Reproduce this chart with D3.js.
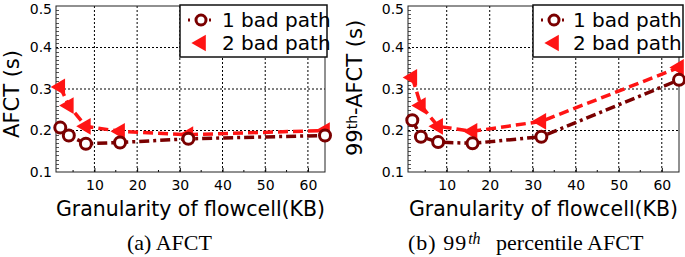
<!DOCTYPE html>
<html>
<head>
<meta charset="utf-8">
<script src="https://cdn.jsdelivr.net/npm/d3@7"></script>
<style>
  body { margin: 0; background: #fff; }
  svg { display: block; }
  .tick text { font-family: "DejaVu Sans", sans-serif; font-size: 14px; fill: #000; }
</style>
</head>
<body>
<svg id="chart" width="685" height="257"></svg>
<script>
// flowcell granularity (KB)
var granularity = [2, 4, 8, 16, 32, 64];

// (a) average flow completion time (s)
var afctOneBad = [0.207, 0.188, 0.168, 0.171, 0.180, 0.188];
var afctTwoBad = [0.305, 0.260, 0.210, 0.198, 0.190, 0.200];

// (b) 99th percentile flow completion time (s)
var p99OneBad = [0.225, 0.185, 0.172, 0.169, 0.185, 0.322];
var p99TwoBad = [0.328, 0.260, 0.210, 0.198, 0.222, 0.352];

var seriesNames = ["1 bad path", "2 bad path"];
var xTicks = [10, 20, 30, 40, 50, 60];
var xMinorTicks = [5, 15, 25, 35, 45, 55];
var yTicks = [0.1, 0.2, 0.3, 0.4, 0.5];

var darkRed = "#7a0000";
var red = "#ff1414";

var svg = d3.select("#chart");

function panel(opts){
	var g = svg.append("g").attr("transform", "translate(" + opts.left + "," + opts.top + ")");
	var width = opts.width, height = opts.height;

	var xScale = d3.scaleLinear().domain([1, 64]).range([0, width]);
	var yScale = d3.scaleLinear().domain([0.1, 0.5]).range([height, 0]);

	// grid
	g.append("g").selectAll("line").data(xTicks).enter().append("line")
		.attr("x1", function(d){ return xScale(d); })
		.attr("x2", function(d){ return xScale(d); })
		.attr("y1", 0).attr("y2", height)
		.attr("stroke", "#000").attr("stroke-width", 1).attr("stroke-dasharray", "2,2");
	g.append("g").selectAll("line").data(yTicks.slice(1, -1)).enter().append("line")
		.attr("x1", 0).attr("x2", width)
		.attr("y1", function(d){ return yScale(d); })
		.attr("y2", function(d){ return yScale(d); })
		.attr("stroke", "#000").attr("stroke-width", 1).attr("stroke-dasharray", "2,2");

	// axes
	var xAxis = d3.axisBottom(xScale).tickValues(xTicks).tickSize(-4).tickPadding(8)
		.tickFormat(d3.format("d"));
	var x_axis = g.append("g").attr("transform", "translate(0," + height + ")").call(xAxis);
	x_axis.select(".domain").remove();
	x_axis.selectAll(".tick line").attr("stroke", "#000");

	g.append("g").selectAll("line").data(xMinorTicks).enter().append("line")
		.attr("x1", function(d){ return xScale(d); })
		.attr("x2", function(d){ return xScale(d); })
		.attr("y1", height).attr("y2", height - 2)
		.attr("stroke", "#000");

	// dense minor ticks on the left edge
	g.append("g").selectAll("line").data(d3.range(0.11, 0.5, 0.01)).enter().append("line")
		.attr("x1", 0).attr("x2", 3)
		.attr("y1", function(d){ return Math.round(yScale(d)) + 0.5; })
		.attr("y2", function(d){ return Math.round(yScale(d)) + 0.5; })
		.attr("stroke", "#555");

	var yAxis = d3.axisLeft(yScale).tickValues(yTicks).tickSize(0).tickPadding(4)
		.tickFormat(d3.format(".1f"));
	var y_axis = g.append("g").call(yAxis);
	y_axis.select(".domain").remove();
	// keep the top label inside the page
	y_axis.selectAll(".tick text").filter(function(d){ return d === 0.5; }).attr("dy", "0.5em");

	// frame
	g.append("rect").attr("width", width).attr("height", height)
		.attr("fill", "none").attr("stroke", "#222").attr("stroke-width", 1);

	var line = d3.line()
		.x(function(d){ return xScale(d[0]); })
		.y(function(d){ return yScale(d[1]); });

	var one = granularity.map(function(v, i){ return [v, opts.one[i]]; });
	var two = granularity.map(function(v, i){ return [v, opts.two[i]]; });

	g.append("path").datum(two).attr("d", line)
		.attr("fill", "none").attr("stroke", red).attr("stroke-width", 3.5)
		.attr("stroke-dasharray", "10,5");
	g.append("path").datum(one).attr("d", line)
		.attr("fill", "none").attr("stroke", darkRed).attr("stroke-width", 3.5)
		.attr("stroke-dasharray", "10,4,3,4");

	var tri = d3.symbol().type(d3.symbolTriangle).size(120);
	g.append("g").selectAll("path").data(two).enter().append("path")
		.attr("d", tri)
		.attr("transform", function(d){ return "translate(" + xScale(d[0]) + "," + yScale(d[1]) + ") rotate(-90)"; })
		.attr("fill", red);

	g.append("g").selectAll("circle").data(one).enter().append("circle")
		.attr("cx", function(d){ return xScale(d[0]); })
		.attr("cy", function(d){ return yScale(d[1]); })
		.attr("r", 5.5)
		.attr("fill", "#fff").attr("stroke", darkRed).attr("stroke-width", 3);

	// legend
	var lg = g.append("g").attr("transform", "translate(" + opts.legendX + ",-1)");
	lg.append("rect").attr("width", opts.legendW).attr("height", 52)
		.attr("fill", "#fff").attr("stroke", "#111").attr("stroke-width", 1.5);
	lg.append("line").attr("x1", 8).attr("x2", 34).attr("y1", 15).attr("y2", 15)
		.attr("stroke", darkRed).attr("stroke-width", 3).attr("stroke-dasharray", "2,5");
	lg.append("circle").attr("cx", 21).attr("cy", 15).attr("r", 5)
		.attr("fill", "#fff").attr("stroke", darkRed).attr("stroke-width", 3);
	lg.append("path").attr("d", tri)
		.attr("transform", "translate(21,38) rotate(-90)").attr("fill", red);
	lg.selectAll("text").data(seriesNames).enter().append("text")
		.attr("x", opts.legendTextX).attr("y", function(d, i){ return 22 + i * 23; })
		.attr("font-family", "DejaVu Sans, sans-serif").attr("font-size", 20)
		.text(function(d){ return d; });

	// axis titles
	g.append("text")
		.attr("x", width / 2).attr("y", height + 44)
		.attr("text-anchor", "middle")
		.attr("font-family", "DejaVu Sans, sans-serif").attr("font-size", 20.5)
		.text("Granularity of flowcell(KB)");

	var yl = g.append("text")
		.attr("transform", "translate(" + opts.yLabelX + "," + opts.yLabelY + ") rotate(-90)")
		.attr("text-anchor", "middle")
		.attr("font-family", "DejaVu Sans, sans-serif").attr("font-size", 21);
	opts.yLabel(yl);

	var cap = g.append("text")
		.attr("x", opts.capX).attr("y", height + 78)
		.attr("font-family", "Liberation Serif, serif").attr("font-size", 22);
	opts.caption(cap);
}

panel({
	left: 56, top: 6, width: 269, height: 166,
	one: afctOneBad, two: afctTwoBad,
	legendX: 124, legendW: 147, legendTextX: 42,
	yLabelX: -37, yLabelY: 88,
	capX: 71,
	yLabel: function(t){ t.text("AFCT (s)"); },
	caption: function(t){ t.text("(a) AFCT"); }
});

panel({
	left: 408, top: 6, width: 271, height: 166,
	one: p99OneBad, two: p99TwoBad,
	legendX: 125, legendW: 150, legendTextX: 40,
	yLabelX: -46, yLabelY: 82,
	capX: 0,
	yLabel: function(t){
		t.append("tspan").text("99");
		t.append("tspan").attr("baseline-shift", "35%").attr("font-size", 14).text("th");
		t.append("tspan").text("-AFCT (s)");
	},
	caption: function(t){
		t.append("tspan").attr("letter-spacing", 1).text("(b) 99");
		t.append("tspan").attr("dx", 1).attr("baseline-shift", "40%").attr("font-size", 16)
			.attr("font-style", "italic").text("th");
		t.append("tspan").attr("dx", 10).text(" percentile AFCT");
	}
});
</script>
</body>
</html>
